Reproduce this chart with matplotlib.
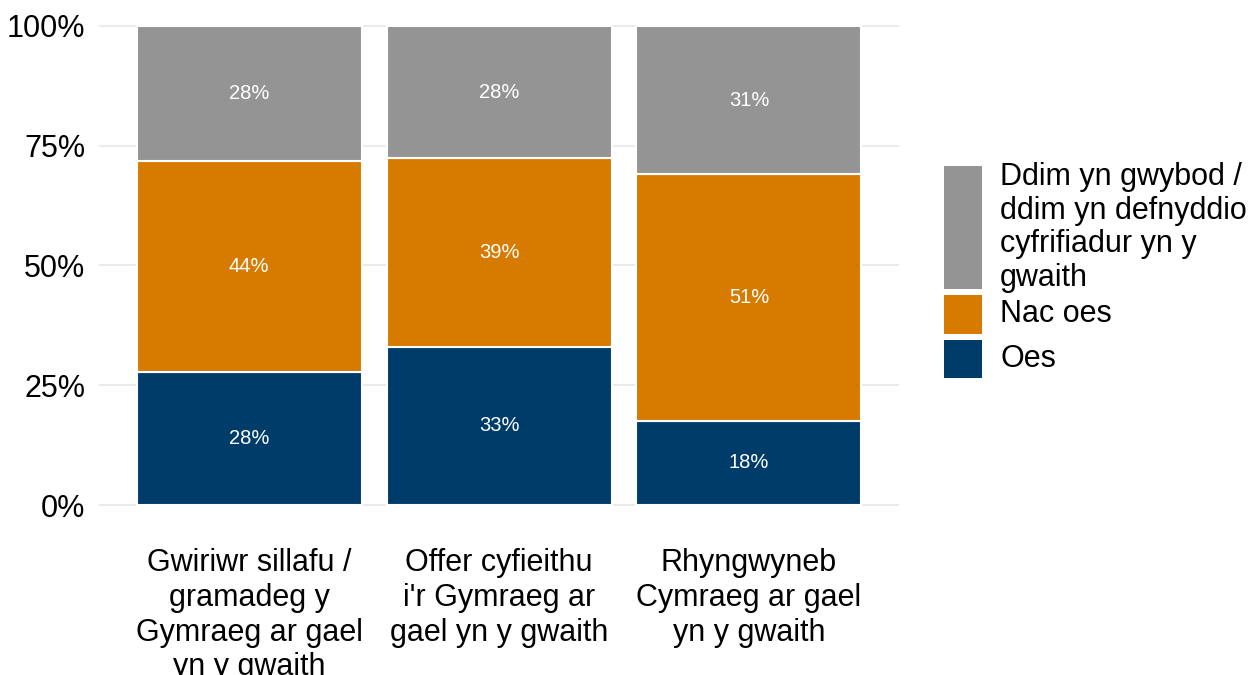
import matplotlib
matplotlib.use("Agg")
import matplotlib.pyplot as plt
from matplotlib.patches import Rectangle

plt.rcParams['font.family'] = ['Liberation Sans', 'DejaVu Sans']

categories = ["Gwiriwr sillafu /\ngramadeg y\nGymraeg ar gael\nyn y gwaith",
              "Offer cyfieithu\ni'r Gymraeg ar\ngael yn y gwaith",
              "Rhyngwyneb\nCymraeg ar gael\nyn y gwaith"]
oes = [27.8, 33.0, 17.6]
nac_oes = [44.0, 39.4, 51.4]
ddim = [28.2, 27.6, 31.0]
series_names = ["Ddim yn gwybod /\nddim yn defnyddio\ncyfrifiadur yn y\ngwaith", "Nac oes", "Oes"]
colors = {"Oes": "#003c6a", "Nac oes": "#d67b00", "Ddim": "#949494"}

W, H = 1260, 675
fig = plt.figure(figsize=(12.6, 6.75), dpi=100)
ax = fig.add_axes([99 / W, 1 - 529 / H, 800 / W, 527 / H])

x = list(range(len(categories)))
bottom = [0] * len(x)
for vals, col in [(oes, colors["Oes"]), (nac_oes, colors["Nac oes"]), (ddim, colors["Ddim"])]:
    ax.bar(x, vals, bottom=bottom, width=0.9, color=col, edgecolor='white', linewidth=1.5, zorder=2)
    for xi, b, v in zip(x, bottom, vals):
        ax.text(xi, b + v / 2, f"{v:.0f}%", color='white', fontsize=14.5, ha='center', va='center', zorder=3)
    bottom = [b + v for b, v in zip(bottom, vals)]

ax.set_xlim(-0.6, 2.6)
ax.set_ylim(-5, 105)
ax.set_yticks([0, 25, 50, 75, 100])
ax.set_yticklabels(["0%", "25%", "50%", "75%", "100%"])
ax.set_xticks(x)
ax.set_xticklabels(categories, linespacing=1.2)
ax.tick_params(axis='both', length=0, labelsize=22, colors='black')
ax.tick_params(axis='y', pad=10)
ax.tick_params(axis='x', pad=14)
ax.grid(axis='y', color='#ebebeb', linewidth=1.5, zorder=0)
ax.set_axisbelow(True)
for s in ax.spines.values():
    s.set_visible(False)

# legend drawn by hand to get the per-key heights
def px_rect(x0, y0, x1, y1, col):
    fig.add_artist(Rectangle((x0 / W, 1 - y1 / H), (x1 - x0) / W, (y1 - y0) / H,
                             transform=fig.transFigure, color=col, lw=0))

keys = [(166, 289, colors["Ddim"]), (295, 334, colors["Nac oes"]), (340, 378, colors["Oes"])]
for (y0, y1, col), name in zip(keys, series_names):
    px_rect(944, y0, 982, y1, col)
    fig.text(1000 / W, 1 - (y0 + y1) / 2 / H, name, fontsize=22, ha='left', va='center',
             linespacing=1.15)

fig.savefig("out.png", dpi=100)
